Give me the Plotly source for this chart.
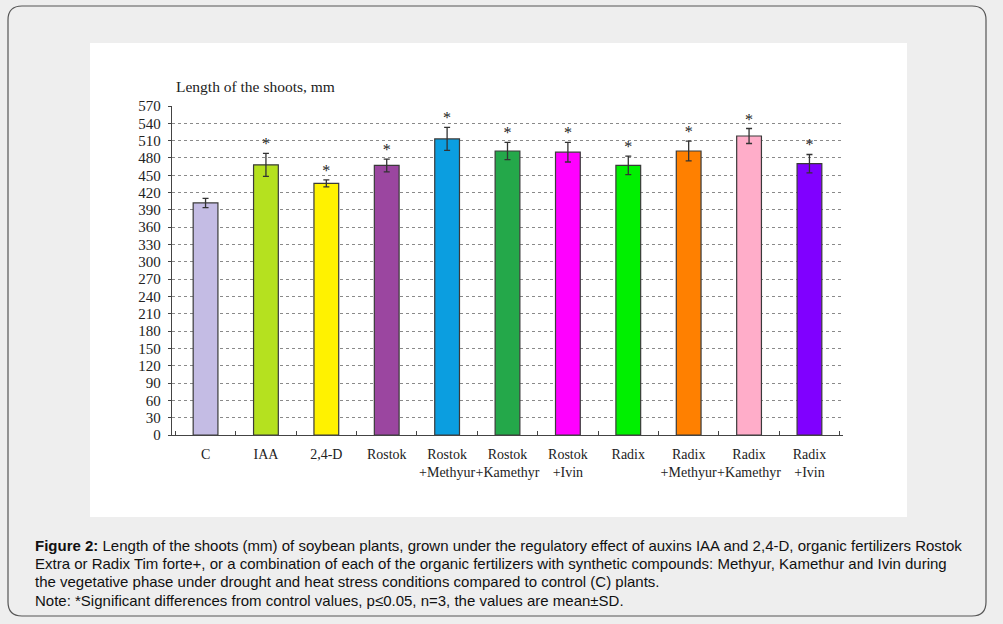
import plotly.graph_objects as go

categories = ["C", "IAA", "2,4-D", "Rostok", "Rostok<br>+Methyur", "Rostok<br>+Kamethyr",
              "Rostok<br>+Ivin", "Radix", "Radix<br>+Methyur", "Radix<br>+Kamethyr", "Radix<br>+Ivin"]
means = [402, 468, 436, 467, 513, 492, 490, 467, 492, 518, 470]
sd = [8, 20, 6, 11, 20, 15, 17, 16, 17, 13, 16]
significant = ["", "*", "*", "*", "*", "*", "*", "*", "*", "*", "*"]
colors = ["#c4bce4", "#b5e11f", "#fff200", "#9b46a0", "#0b9ee0", "#24a84a",
          "#ff00ff", "#00f000", "#ff8000", "#ffadc9", "#8000ff"]
y_ticks = list(range(0, 571, 30))
caption_lines = [
    "<b>Figure 2:</b> Length of the shoots (mm) of soybean plants, grown under the regulatory effect of auxins IAA and 2,4-D, organic fertilizers Rostok",
    "Extra or Radix Tim forte+, or a combination of each of the organic fertilizers with synthetic compounds: Methyur, Kamethur and Ivin during",
    "the vegetative phase under drought and heat stress conditions compared to control (C) plants.",
    "Note: *Significant differences from control values, p≤0.05, n=3, the values are mean±SD.",
]

W, H = 1003, 624
L, R, T, B = 172, 843, 106, 435


def px(x):
    return (x - L) / (R - L)


def py(y):
    return (B - y) / (B - T)


fig = go.Figure()
fig.add_trace(go.Bar(
    x=categories, y=means,
    marker=dict(color=colors, line=dict(color="#3a3a3a", width=1.2)),
    width=0.41,
    error_y=dict(type="data", array=sd, visible=True, color="#333333", thickness=1.3, width=3),
    hoverinfo="skip",
))
fig.add_trace(go.Scatter(
    x=categories, y=[m + s for m, s in zip(means, sd)],
    mode="text", text=significant, textposition="top center",
    textfont=dict(family="Liberation Serif", size=16, color="#222222"),
    hoverinfo="skip",
))

# rounded frame and white image area
x0, x1, y0, y1, r = 8, 986, 6, 616, 14
path = (f"M {px(x0+r)},{py(y0)} L {px(x1-r)},{py(y0)} Q {px(x1)},{py(y0)} {px(x1)},{py(y0+r)} "
        f"L {px(x1)},{py(y1-r)} Q {px(x1)},{py(y1)} {px(x1-r)},{py(y1)} "
        f"L {px(x0+r)},{py(y1)} Q {px(x0)},{py(y1)} {px(x0)},{py(y1-r)} "
        f"L {px(x0)},{py(y0+r)} Q {px(x0)},{py(y0)} {px(x0+r)},{py(y0)} Z")
shapes = [
    dict(type="path", xref="paper", yref="paper", path=path,
         line=dict(color="#555555", width=1.2), fillcolor="#eeeeee", layer="below"),
    dict(type="rect", xref="paper", yref="paper", x0=px(90), x1=px(907), y0=py(517), y1=py(43),
         line=dict(width=0), fillcolor="white", layer="below"),
]

annotations = [
    dict(xref="paper", yref="paper", x=px(174), y=py(86), xanchor="left", yanchor="middle",
         text="Length of the shoots, mm", showarrow=False,
         font=dict(family="Liberation Serif", size=15.5, color="#222222")),
]
for i, line in enumerate(caption_lines):
    annotations.append(dict(
        xref="paper", yref="paper", x=px(33), y=py(545 + i * 18.4), xanchor="left", yanchor="middle",
        align="left", showarrow=False, text=line,
        font=dict(family="Liberation Sans", size=15, color="#111111")))

fig.update_layout(
    width=W, height=H,
    margin=dict(l=L, r=W - R, t=T, b=H - B, pad=0),
    paper_bgcolor="#eeeeee", plot_bgcolor="white",
    showlegend=False, bargap=0.59,
    shapes=shapes, annotations=annotations,
    xaxis=dict(type="category", showline=True, linecolor="#444444", linewidth=1.3,
               tickson="boundaries", ticks="inside", ticklen=4, tickcolor="#444444", tickangle=0,
               ticklabelstandoff=6,
               showgrid=False, tickfont=dict(family="Liberation Serif", size=14, color="#222222")),
    yaxis=dict(range=[0, 570], tickvals=y_ticks, showline=True, linecolor="#444444", linewidth=1.3,
               ticks="outside", ticklen=3, tickcolor="#444444", ticklabelstandoff=4,
               showgrid=True, gridcolor="#8a8a8a", griddash="dot", gridwidth=1, zeroline=False,
               tickfont=dict(family="Liberation Serif", size=15, color="#222222")),
)

fig.write_html("out.html")
